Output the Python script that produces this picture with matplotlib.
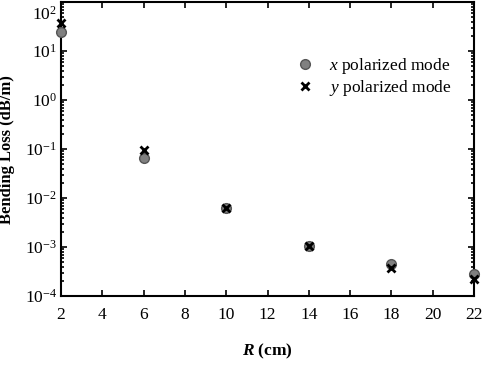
import numpy as np
import matplotlib.pyplot as plt
from matplotlib.transforms import ScaledTranslation

plt.rcParams["font.family"] = ["Liberation Serif", "DejaVu Serif"]
plt.rcParams["mathtext.fontset"] = "custom"
plt.rcParams["mathtext.rm"] = "Liberation Serif"
plt.rcParams["mathtext.it"] = "Liberation Serif:italic"
plt.rcParams["mathtext.bf"] = "Liberation Serif:bold"
plt.rcParams["mathtext.bfit"] = "Liberation Serif:italic:bold"

R = [2, 6, 10, 14, 18, 22]
loss_x = [25, 0.065, 0.0064, 0.00105, 0.00045, 0.00028]
loss_y = [37, 0.095, 0.0064, 0.00105, 0.00037, 0.00022]

fig = plt.figure(figsize=(4.86, 3.65), dpi=100)
ax = fig.add_axes([0.1255, 0.189, 0.850, 0.805])

ax.plot(R, loss_x, "o", color="#808080", markeredgecolor="#555555",
        markersize=7, clip_on=False, label="$x$ polarized mode", zorder=3)
ax.plot(R, loss_y, "x", color="black", markersize=6, mew=2,
        clip_on=False, label="$y$ polarized mode", zorder=4)

ax.set_yscale("log")
ax.set_xlim(2, 22)
ax.set_ylim(1e-4, 1e2)
ax.set_xticks(range(2, 23, 2))
ax.set_yticks([1e-4, 1e-3, 1e-2, 1e-1, 1e0, 1e1, 1e2])
ax.tick_params(which="both", direction="in", top=True, right=True,
               labelsize=12.5, width=1.2)
ax.tick_params(which="major", length=4)
ax.tick_params(which="minor", length=2)
ax.tick_params(axis="x", pad=8)
ax.tick_params(axis="y", pad=3)
for s in ax.spines.values():
    s.set_linewidth(1.5)

# top label pushed down so it stays inside the figure
fig.canvas.draw()
top_lbl = ax.get_yticklabels()[-1]
top_lbl.set_transform(top_lbl.get_transform()
                      + ScaledTranslation(0, -11 / 100, fig.dpi_scale_trans))

ax.set_xlabel(r"$\mathbfit{R}$ (cm)", fontsize=12.5, fontweight="bold")
ax.xaxis.set_label_coords(0.5, -0.155)
ax.set_ylabel("Bending Loss (dB/m)", fontsize=12, fontweight="bold")
ax.yaxis.set_label_coords(-0.111, 0.5)

ax.legend(loc="upper left", bbox_to_anchor=(0.569, 0.817), frameon=False,
          fontsize=12.5, borderpad=0, borderaxespad=0, handlelength=1.0,
          handletextpad=0.9, labelspacing=0.1)

fig.savefig("out.png", dpi=100)
